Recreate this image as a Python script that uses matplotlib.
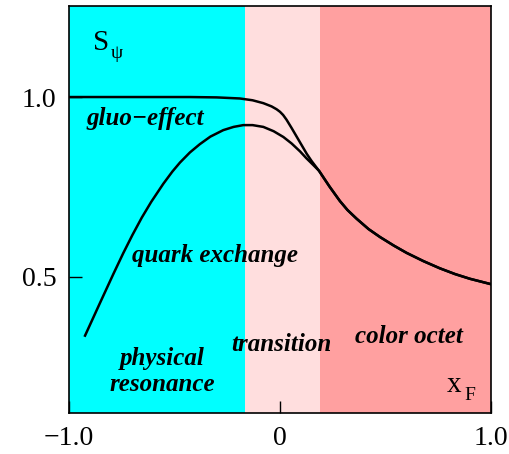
import matplotlib
matplotlib.use("Agg")
import matplotlib.pyplot as plt

# regions along x_F
region_edges = [-1.0, -0.165, 0.19, 1.0]
region_colors = ["#00ffff", "#ffdede", "#ffa0a0"]

# common tail after the two curves meet
tail_x = [0.235, 0.284, 0.32, 0.363, 0.42, 0.474, 0.54, 0.60, 0.68, 0.758, 0.83, 0.90, 1.0]
tail_y = [0.751, 0.711, 0.686, 0.662, 0.633, 0.611, 0.587, 0.567, 0.544, 0.524, 0.508, 0.495, 0.480]

# gluo-effect curve
gluo_x = [-1.0, -0.6, -0.427, -0.3, -0.19, -0.13, -0.079, -0.04, -0.016, 0.0, 0.015, 0.031,
          0.055, 0.079, 0.103, 0.127, 0.15, 0.185] + tail_x
gluo_y = [1.0, 1.0, 1.0, 0.999, 0.996, 0.991, 0.983, 0.974, 0.966, 0.959, 0.950, 0.937,
          0.914, 0.890, 0.866, 0.842, 0.822, 0.795] + tail_y

# quark exchange curve
quark_x = [-0.924, -0.853, -0.790, -0.743, -0.70, -0.655, -0.61, -0.553, -0.51, -0.474, -0.427,
           -0.38, -0.33, -0.269, -0.22, -0.174, -0.13, -0.079, -0.03, 0.016, 0.055, 0.095,
           0.125, 0.158, 0.185] + tail_x
quark_y = [0.337, 0.428, 0.508, 0.566, 0.616, 0.665, 0.709, 0.759, 0.793, 0.818, 0.846,
           0.869, 0.890, 0.908, 0.917, 0.922, 0.922, 0.917, 0.905, 0.889, 0.871, 0.849,
           0.830, 0.811, 0.795] + tail_y

xtick_vals = [-1.0, 0.0, 1.0]
xtick_labels = ["\u22121.0", "0", "1.0"]
ytick_vals = [0.5, 1.0]
ytick_labels = ["0.5", "1.0"]

serif = "Liberation Serif"

fig = plt.figure(figsize=(5.1, 4.54), dpi=100)
ax = fig.add_axes([0.1353, 0.0903, 0.8274, 0.8965])

for i in range(3):
    ax.axvspan(region_edges[i], region_edges[i + 1], color=region_colors[i], lw=0, zorder=0)

ax.plot(gluo_x, gluo_y, color="black", lw=1.8, solid_joinstyle="round", zorder=3)
ax.plot(quark_x, quark_y, color="black", lw=1.8, solid_joinstyle="round", zorder=3)

ax.set_xlim(-1.0, 1.0)
ax.set_ylim(0.122, 1.253)
ax.set_xticks(xtick_vals)
ax.set_xticklabels(xtick_labels, fontfamily=serif, fontsize=20)
ax.set_yticks(ytick_vals)
ax.set_yticklabels(ytick_labels, fontfamily=serif, fontsize=20)
ax.tick_params(direction="in", length=9, width=1, pad=9)
for s in ax.spines.values():
    s.set_linewidth(1.2)

lab = dict(fontfamily=serif, fontsize=18, fontweight="bold", fontstyle="italic", zorder=4)
ax.text(-0.915, 0.922, "gluo\u2212effect", ha="left", va="baseline", **lab)
ax.text(-0.701, 0.542, "quark exchange", ha="left", va="baseline", **lab)
ax.text(-0.559, 0.256, "physical", ha="center", va="baseline", **lab)
ax.text(-0.559, 0.184, "resonance", ha="center", va="baseline", **lab)
ax.text(0.005, 0.293, "transition", ha="center", va="baseline", **lab)
ax.text(0.611, 0.317, "color octet", ha="center", va="baseline", **lab)

ax.text(-0.886, 1.13, "S", fontfamily=serif, fontsize=21, ha="left", va="baseline")
ax.text(-0.80, 1.108, "\u03c8", fontfamily=serif, fontsize=14, ha="left", va="baseline")
ax.text(0.791, 0.181, "x", fontfamily=serif, fontsize=21, ha="left", va="baseline")
ax.text(0.876, 0.158, "F", fontfamily=serif, fontsize=14, ha="left", va="baseline")

fig.savefig("out.png", dpi=100)
